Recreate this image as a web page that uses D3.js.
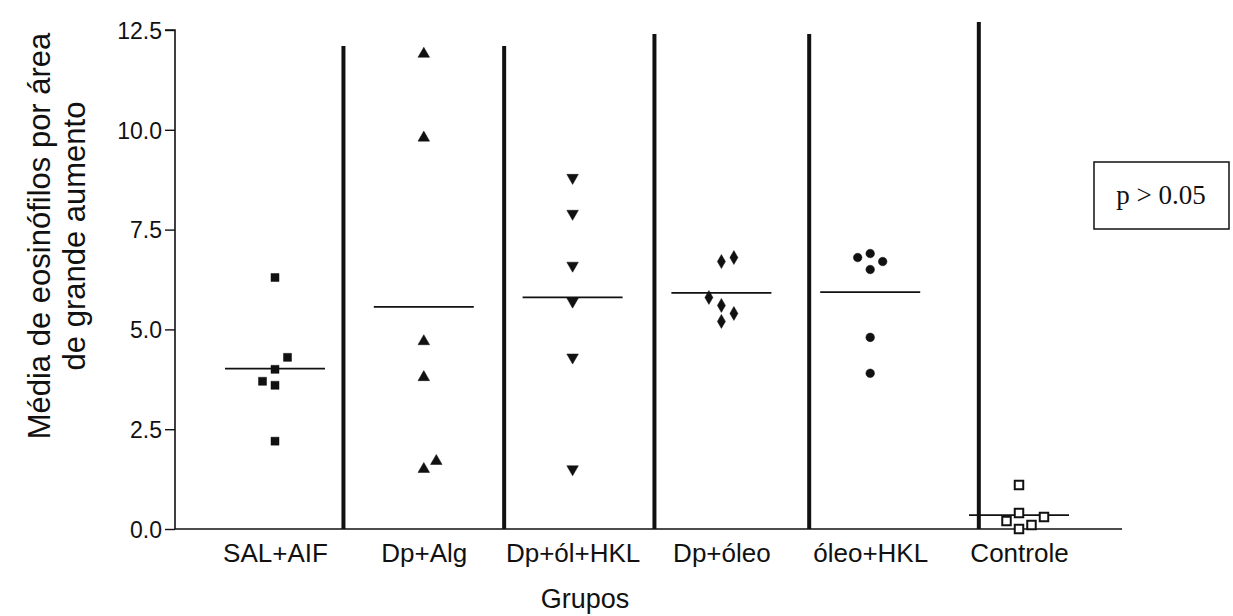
<!DOCTYPE html>
<html>
<head>
<meta charset="utf-8">
<script src="https://cdn.jsdelivr.net/npm/d3@7"></script>
<style>
  html, body { margin: 0; padding: 0; background: #fff; }
  svg { display: block; }
  text { font-family: "Liberation Sans", Arial, sans-serif; fill: #111; }
</style>
</head>
<body>
<svg id="chart" width="1233" height="616"></svg>
<script>
// Eosinophil counts per high-power field, one array per group
const groups = ["SAL+AIF", "Dp+Alg", "Dp+ól+HKL", "Dp+óleo", "óleo+HKL", "Controle"];
const salAif   = [6.3, 4.3, 4.0, 3.7, 3.6, 2.2];
const dpAlg    = [11.9, 9.8, 4.7, 3.8, 1.7, 1.5];
const dpOlHkl  = [8.8, 7.9, 6.6, 5.7, 4.3, 1.5];
const dpOleo   = [6.8, 6.7, 5.8, 5.6, 5.4, 5.2];
const oleoHkl  = [6.9, 6.8, 6.7, 6.5, 4.8, 3.9];
const controle = [1.1, 0.4, 0.3, 0.2, 0.1, 0.0];
const seriesValues = [salAif, dpAlg, dpOlHkl, dpOleo, oleoHkl, controle];

// side-by-side slot of each point where values overlap (column scatter dodge)
const dodgeSlots = [
  [0, 1, 0, -1, 0, 0],
  [0, 0, 0, 0, 1, 0],
  [0, 0, 0, 0, 0, 0],
  [1, 0, -1, 0, 1, 0],
  [0, -1, 1, 0, 0, 0],
  [0, 0, 2, -1, 1, 0]
];

// group means drawn as horizontal lines
const groupMeans = seriesValues.map(v => d3.mean(v));

// vertical dividers (position in group units, top value)
const dividerPos = [0.46, 1.54, 2.55, 3.59, 4.73];
const dividerTop = [12.1, 12.1, 12.4, 12.4, 12.7];

const yTicks = [0, 2.5, 5, 7.5, 10, 12.5];
const yTitle = ["Média de eosinófilos por área", "de grande aumento"];
const xTitle = "Grupos";
const pLabel = "p > 0.05";

const svg = d3.select("#chart");
const axisLeft = 175, axisRight = 1122;

const y = d3.scaleLinear().domain([0, 12.5]).range([529, 30]);
const xi = d3.scaleLinear().domain([0, 5]).range([275, 1019]);
const x = d3.scaleOrdinal().domain(groups).range(groups.map((g, i) => xi(i)));
const slotW = 12.5;

// y axis
const yAxis = svg.append("g")
  .attr("transform", `translate(${axisLeft},0)`)
  .call(d3.axisLeft(y).tickValues(yTicks).tickFormat(d3.format(".1f")).tickSize(10).tickPadding(3));
yAxis.select(".domain").attr("stroke", "#111").attr("stroke-width", 1.6).attr("d", `M-10,${y(12.5)}H0V${y(0)}`);
yAxis.selectAll(".tick line").attr("stroke", "#111").attr("stroke-width", 1.4);
yAxis.selectAll(".tick text").style("font-size", "23px").attr("fill", "#111").attr("dy", "0.36em");

// x axis
const xAxis = svg.append("g")
  .attr("transform", `translate(0,${y(0)})`)
  .call(d3.axisBottom(x).tickSize(0).tickPadding(15));
xAxis.select(".domain").attr("stroke", "#111").attr("stroke-width", 1.6).attr("d", `M${axisLeft},0H${axisRight}`);
xAxis.selectAll(".tick text").style("font-size", "26px").attr("fill", "#111");

// dividers
svg.append("g").selectAll("line")
  .data(dividerPos)
  .join("line")
  .attr("x1", d => xi(d)).attr("x2", d => xi(d))
  .attr("y1", (d, i) => y(dividerTop[i])).attr("y2", y(0))
  .attr("stroke", "#111").attr("stroke-width", 4);

// mean lines
svg.append("g").selectAll("line")
  .data(groups)
  .join("line")
  .attr("x1", g => x(g) - 50).attr("x2", g => x(g) + 50)
  .attr("y1", (g, i) => y(groupMeans[i])).attr("y2", (g, i) => y(groupMeans[i]))
  .attr("stroke", "#111").attr("stroke-width", 1.8);

// point symbols per group
const symbolTypes = [d3.symbolSquare, d3.symbolTriangle, d3.symbolTriangle, d3.symbolDiamond, d3.symbolCircle, d3.symbolSquare];
const symbolSizes = [64, 58, 58, 56, 58, 72];
const symbolRotate = [0, 0, 180, 0, 0, 0];
const hollow = [false, false, false, false, false, true];

groups.forEach((g, gi) => {
  const pts = seriesValues[gi].map((v, k) => ({ v, slot: dodgeSlots[gi][k] }));
  svg.append("g").selectAll("path")
    .data(pts)
    .join("path")
    .attr("d", d3.symbol().type(symbolTypes[gi]).size(symbolSizes[gi]))
    .attr("transform", d => `translate(${x(g) + d.slot * slotW},${y(d.v)}) rotate(${symbolRotate[gi]})`)
    .attr("fill", hollow[gi] ? "#fff" : "#111")
    .attr("stroke", "#111")
    .attr("stroke-width", hollow[gi] ? 2 : 0.5);
});

// axis titles
const yt = svg.append("text")
  .attr("transform", `translate(57,236) rotate(-90)`)
  .attr("text-anchor", "middle")
  .style("font-size", "31px");
yt.selectAll("tspan").data(yTitle).join("tspan")
  .attr("x", 0).attr("dy", (d, i) => i === 0 ? "-0.22em" : "1.13em")
  .text(d => d);

svg.append("text")
  .attr("x", 585).attr("y", 608)
  .attr("text-anchor", "middle")
  .style("font-size", "27px")
  .text(xTitle);

// significance note
svg.append("rect")
  .attr("x", 1094).attr("y", 162).attr("width", 135).attr("height", 67)
  .attr("fill", "#fff").attr("stroke", "#111").attr("stroke-width", 1.5);
svg.append("text")
  .attr("x", 1161).attr("y", 204)
  .attr("text-anchor", "middle")
  .style("font-family", "'Liberation Serif', 'Times New Roman', serif")
  .style("font-size", "27px")
  .text(pLabel);
</script>
</body>
</html>
